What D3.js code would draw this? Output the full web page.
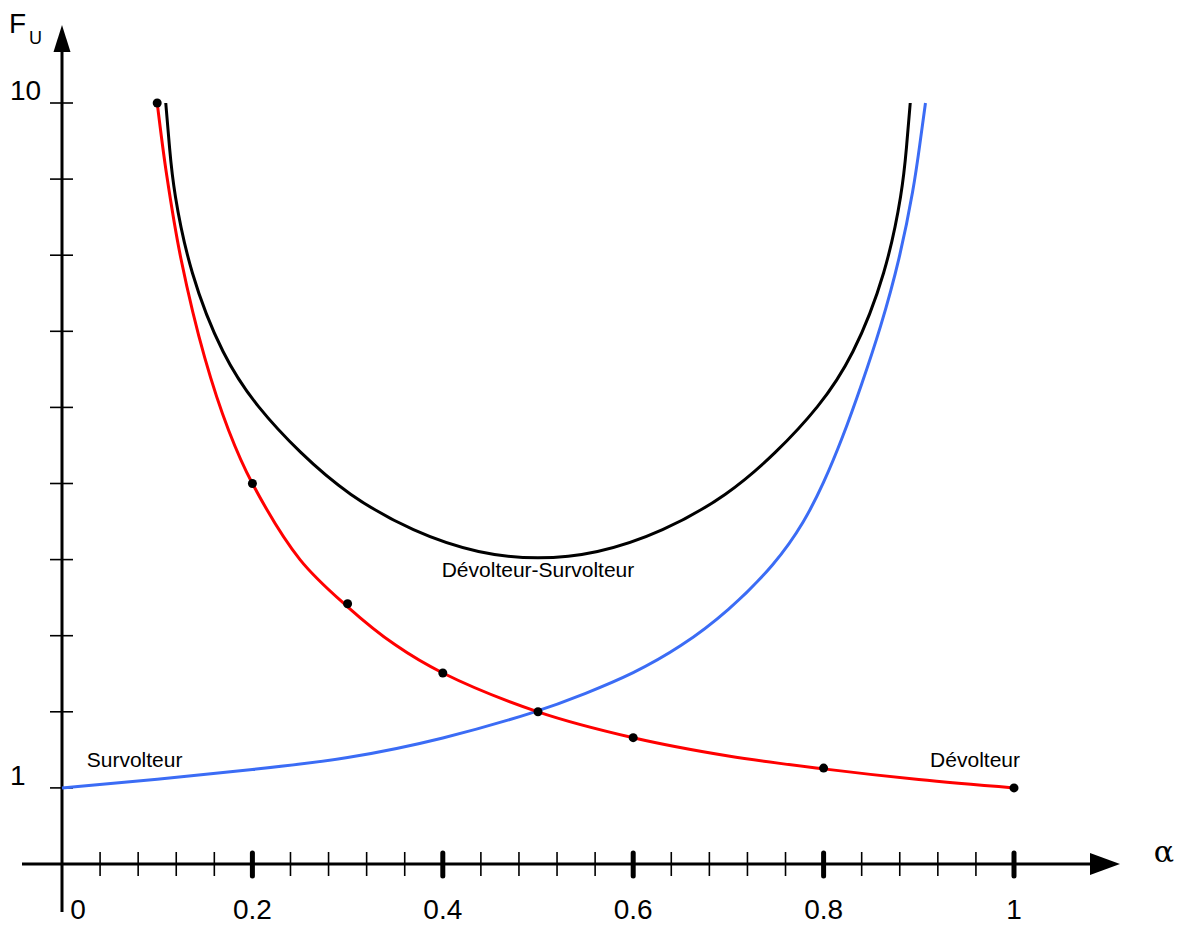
<!DOCTYPE html>
<html>
<head>
<meta charset="utf-8">
<script src="https://cdn.jsdelivr.net/npm/d3@7"></script>
<style>
  html, body { margin: 0; padding: 0; background: #fff; }
  svg { display: block; font-family: "Liberation Sans", Arial, sans-serif; }
</style>
</head>
<body>
<svg id="chart" width="1182" height="930"></svg>
<script>
// ---- data ----
const redAlpha   = [0.1, 0.11, 0.125, 0.15, 0.175, 0.2, 0.25, 0.3, 0.35, 0.4, 0.5, 0.6, 0.7, 0.8, 0.9, 1.0];
const redF       = [10, 9.05, 7.95, 6.65, 5.7, 5.0, 4.0, 3.38, 2.88, 2.51, 2.0, 1.66, 1.42, 1.25, 1.11, 1.0];

const dotAlpha   = [0.1, 0.2, 0.3, 0.4, 0.5, 0.6, 0.8, 1.0];
const dotF       = [10, 5.0, 3.42, 2.51, 2.0, 1.66, 1.26, 1.0];

const blackAlpha = [0.109, 0.113, 0.117, 0.134, 0.169, 0.205, 0.25, 0.3, 0.369, 0.439, 0.5, 0.561, 0.631, 0.7, 0.75, 0.795, 0.831, 0.866, 0.883, 0.887, 0.891];
const blackF     = [10, 9.4, 8.86, 7.77, 6.66, 6.0, 5.4, 4.85, 4.36, 4.07, 4.0, 4.07, 4.36, 4.85, 5.4, 6.0, 6.66, 7.77, 8.86, 9.4, 10];

const blueAlpha  = [0, 0.1, 0.2, 0.3, 0.4, 0.5, 0.55, 0.6, 0.65, 0.7, 0.75, 0.78, 0.8, 0.82, 0.84, 0.86, 0.88, 0.895, 0.901, 0.907];
const blueF      = [1, 1.11, 1.24, 1.38, 1.64, 2.0, 2.24, 2.5, 2.85, 3.32, 3.95, 4.5, 5.0, 5.6, 6.3, 7.05, 7.95, 8.9, 9.45, 10];

const majorTicks = [0.2, 0.4, 0.6, 0.8, 1.0];
const majorLabels = ["0.2", "0.4", "0.6", "0.8", "1"];
const minorTicks = [0.04, 0.08, 0.12, 0.16, 0.24, 0.28, 0.32, 0.36, 0.44, 0.48, 0.52, 0.56, 0.64, 0.68, 0.72, 0.76, 0.84, 0.88, 0.92, 0.96];
const yTicks = [1, 2, 3, 4, 5, 6, 7, 8, 9, 10];
const yLabels = [{v: 10, t: "10"}, {v: 1, t: "1"}];
const curveLabels = [
  {t: "Survolteur", a: 0.026, f: 1.27, anchor: "start"},
  {t: "Dévolteur", a: 1.0, f: 1.27, anchor: "end"},
  {t: "Dévolteur-Survolteur", a: 0.5, f: 3.77, anchor: "middle"}
];

// ---- scales ----
const x = d3.scaleLinear().domain([0, 1]).range([62, 1014]);
const y = d3.scaleLinear().domain([0, 10]).range([864, 103]);

const svg = d3.select("#chart");

// axes lines
svg.append("line").attr("x1", 22).attr("x2", 1095).attr("y1", y(0)).attr("y2", y(0))
  .attr("stroke", "#000").attr("stroke-width", 3);
svg.append("path").attr("d", `M1090,${y(0)-11} L1120,${y(0)} L1090,${y(0)+11} Z`).attr("fill", "#000");

svg.append("line").attr("x1", x(0)).attr("x2", x(0)).attr("y1", 912).attr("y2", 48)
  .attr("stroke", "#000").attr("stroke-width", 3);
svg.append("path").attr("d", `M${x(0)-8.5},52 L${x(0)},25 L${x(0)+8.5},52 Z`).attr("fill", "#000");

// x minor ticks
svg.selectAll(".minor").data(minorTicks).join("line")
  .attr("x1", d => x(d)).attr("x2", d => x(d))
  .attr("y1", y(0) - 12).attr("y2", y(0) + 12)
  .attr("stroke", "#000").attr("stroke-width", 1.6);
// x major ticks
svg.selectAll(".major").data(majorTicks).join("line")
  .attr("x1", d => x(d)).attr("x2", d => x(d))
  .attr("y1", y(0) - 11).attr("y2", y(0) + 12)
  .attr("stroke", "#000").attr("stroke-width", 5).attr("stroke-linecap", "round");
// x labels
svg.selectAll(".xl").data(majorTicks).join("text")
  .attr("x", d => x(d)).attr("y", 919)
  .attr("text-anchor", "middle").attr("font-size", 28).attr("fill", "#000")
  .text((d, i) => majorLabels[i]);
svg.append("text").attr("x", x(0) + 16).attr("y", 919)
  .attr("text-anchor", "middle").attr("font-size", 28).attr("fill", "#000").text("0");

// y ticks
svg.selectAll(".yt").data(yTicks).join("line")
  .attr("x1", x(0) - 12).attr("x2", x(0) + 11)
  .attr("y1", d => y(d)).attr("y2", d => y(d))
  .attr("stroke", "#000").attr("stroke-width", 1.6);
svg.selectAll(".yl").data(yLabels).join("text")
  .attr("x", 10).attr("y", d => y(d.v) - 3)
  .attr("font-size", 28).attr("fill", "#000")
  .text(d => d.t);

// axis titles
const fu = svg.append("text").attr("x", 9).attr("y", 33).attr("font-size", 28).attr("fill", "#000");
fu.append("tspan").text("F");
fu.append("tspan").attr("dx", 3).attr("dy", 11).attr("font-size", 18).text("U");
svg.append("text").attr("x", 1164).attr("y", 862).attr("text-anchor", "middle")
  .attr("font-size", 30).attr("font-family", "'DejaVu Serif', 'Liberation Serif', serif").attr("fill", "#000").text("α");

// curves
const smooth = d3.line().x(d => x(d[0])).y(d => y(d[1])).curve(d3.curveBasis);
const through = d3.line().x(d => x(d[0])).y(d => y(d[1])).curve(d3.curveCatmullRom.alpha(0.5));
const zip = (a, b) => a.map((v, i) => [v, b[i]]);

svg.append("path").datum(zip(blackAlpha, blackF)).attr("d", smooth)
  .attr("fill", "none").attr("stroke", "#000").attr("stroke-width", 3);
svg.append("path").datum(zip(blueAlpha, blueF)).attr("d", smooth)
  .attr("fill", "none").attr("stroke", "#3b6cf5").attr("stroke-width", 3);
svg.append("path").datum(zip(redAlpha, redF)).attr("d", through)
  .attr("fill", "none").attr("stroke", "#ff0000").attr("stroke-width", 3);

// dots
svg.selectAll(".dot").data(zip(dotAlpha, dotF)).join("circle")
  .attr("cx", d => x(d[0])).attr("cy", d => y(d[1])).attr("r", 4.5).attr("fill", "#000");

// curve labels
svg.selectAll(".cl").data(curveLabels).join("text")
  .attr("x", d => x(d.a) + (d.anchor === "end" ? 6 : 0)).attr("y", d => y(d.f))
  .attr("text-anchor", d => d.anchor).attr("font-size", 21).attr("fill", "#000")
  .text(d => d.t);
</script>
</body>
</html>
